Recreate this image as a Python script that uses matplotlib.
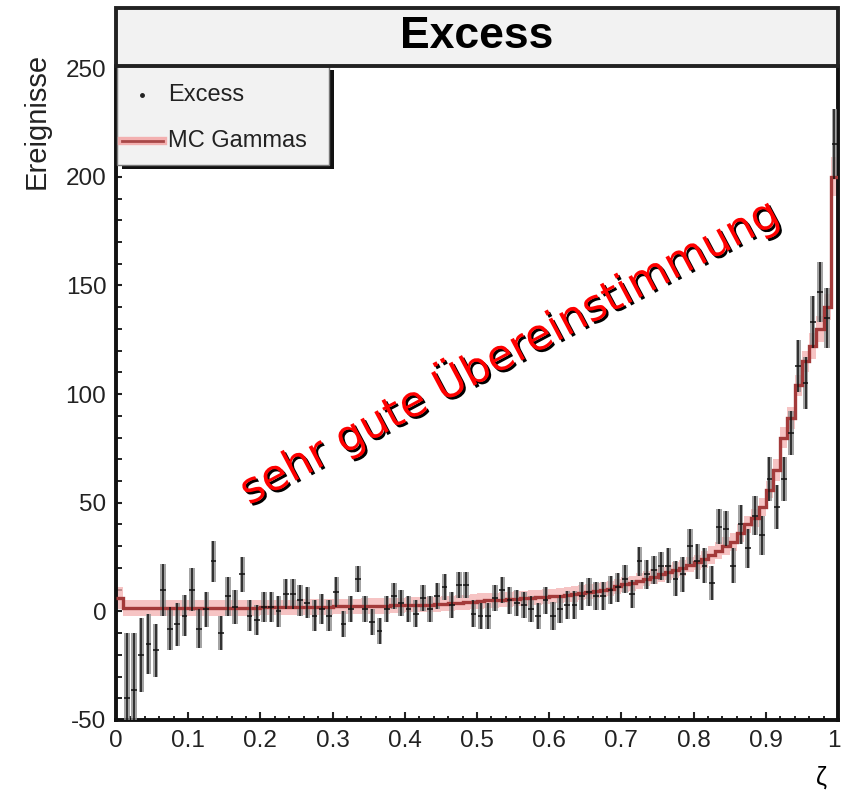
import matplotlib
matplotlib.use("Agg")
import matplotlib.pyplot as plt
import matplotlib.patheffects as pe
import matplotlib.transforms as mtransforms
from matplotlib.patches import Rectangle
from matplotlib.ticker import MultipleLocator
import numpy as np

plt.rcParams["font.family"] = ["Liberation Sans", "DejaVu Sans"]
plt.rcParams["axes.unicode_minus"] = False

# histogram binning: 100 bins in zeta from 0 to 1
BIN_EDGES = np.linspace(0.0, 1.0, 101)

# excess events per bin (bin 0 not shown in the reference)
EXCESS = [
    np.nan, -40, -36, -20, -15, -18, 10, -8, -6, -2,
    10, -8, 1, 23, -10, 7, 2, 17, -2, -4,
    2, 2, 0, 8, 8, 5, 4, -2, 1, -2,
    9, -6, 1, 15, 1, -5, -9, 1, 7, 4,
    1, -1, 6, 1, 7, 11, 3, 12, 12, -1,
    -2, -2, 6, 10, 5, 4, 3, 1, -2, 5,
    -2, 1, 3, 3, 7, 9, 7, 7, 10, 11,
    15, 8, 23, 17, 19, 21, 21, 15, 17, 30,
    23, 21, 13, 39, 38, 21, 40, 29, 44, 35,
    61, 48, 61, 82, 113, 105, 133, 147, 135, 215,
]
EXCESS_ERR = [
    0, 30, 26, 17, 14, 12, 12, 10, 10, 9.5,
    10, 9, 8, 9.5, 8, 9, 8, 8, 7, 7,
    7, 7, 7, 7, 7, 7, 7, 7, 7, 7,
    7, 6, 6, 6, 6, 6, 6, 6, 6, 6,
    6, 6, 6, 6, 6, 6, 6, 6, 6, 6,
    6, 6, 6, 6, 6, 6, 6, 6, 6, 6,
    6.5, 6.5, 6.5, 6.5, 6.5, 6.5, 6.5, 6.5, 6.5, 6.5,
    6.5, 6.5, 6.5, 6.5, 6.5, 6.5, 8, 8, 8, 8,
    8, 8, 8, 8, 8, 8, 9, 9, 9, 9,
    10, 10, 10, 10, 12, 12, 12, 14, 14, 16,
]

# MC gamma expectation per bin
MC_GAMMAS = [
    6, 1.5, 1.5, 1.5, 1.5, 1.5, 1.5, 1.5, 1.5, 1.5,
    1.5, 1.5, 1.5, 1.5, 1.5, 1.5, 1.5, 1.5, 1.5, 1.5,
    1.8, 1.8, 1.8, 1.8, 1.8, 2, 2, 2, 2, 2,
    2.3, 2.3, 2.3, 2.3, 2.5, 2.5, 2.5, 2.5, 2.8, 2.8,
    3, 3, 3, 3, 3.3, 3.5, 3.8, 4, 4.2, 4.5,
    4.8, 5, 5, 5.3, 5.5, 5.8, 6, 6.2, 6.5, 6.8,
    7, 7.3, 7.6, 8, 8.5, 9, 9.5, 10, 10.5, 11.5,
    12.5, 13, 14, 15, 16, 17, 18, 19, 20, 21.5,
    22.5, 24, 26, 28, 30, 32, 36, 40, 43, 48,
    56, 65, 80, 89, 104, 115, 122, 130, 140, 200,
]
MC_ERR = [5] + [3.5] * 80 + [4] * 10 + [5] * 5 + [6] * 3 + [9]

X_TICK_LABELS = ["0", "0.1", "0.2", "0.3", "0.4", "0.5", "0.6", "0.7",
                 "0.8", "0.9", "1"]
Y_TICKS = [-50, 0, 50, 100, 150, 200, 250]
ANNOTATION = "sehr gute Übereinstimmung"

excess = np.array(EXCESS, dtype=float)
excess_err = np.array(EXCESS_ERR, dtype=float)
mc = np.array(MC_GAMMAS, dtype=float)
mc_err = np.array(MC_ERR, dtype=float)
centers = 0.5 * (BIN_EDGES[:-1] + BIN_EDGES[1:])
width = BIN_EDGES[1] - BIN_EDGES[0]

fig = plt.figure(figsize=(8.42, 7.97), dpi=100)
ax = fig.add_axes([116 / 842, 1 - 720 / 797, 722 / 842, 654 / 797])

# MC band + step line
ax.stairs(mc + mc_err, BIN_EDGES, baseline=mc - mc_err, fill=True,
          color="#f3b0b0", alpha=0.75, zorder=2)
ax.stairs(mc, BIN_EDGES, baseline=None, color="#a33a3a", lw=2.4, zorder=4)

# excess: grey error boxes + black crosses
ok = ~np.isnan(excess)
ax.bar(centers[ok], 2 * excess_err[ok], width=0.75 * width,
       bottom=excess[ok] - excess_err[ok], color="#8e8e8e", alpha=0.8,
       zorder=3, linewidth=0)
ax.errorbar(centers[ok], excess[ok], yerr=excess_err[ok], xerr=0.004,
            fmt="none", ecolor="#111111", elinewidth=1.1, capsize=0, zorder=5)

ax.set_xlim(0, 1)
ax.set_ylim(-50, 251)
ax.xaxis.set_minor_locator(MultipleLocator(0.02))
ax.yaxis.set_minor_locator(MultipleLocator(10))
ax.set_xticks(np.linspace(0, 1, len(X_TICK_LABELS)))
ax.set_xticklabels(X_TICK_LABELS)
ax.set_yticks(Y_TICKS)
ax.tick_params(which="major", direction="in", length=6, width=1.5,
               labelsize=17.5, colors="#222222", pad=7)
ax.tick_params(which="minor", direction="in", length=3, width=1.2)
ax.tick_params(axis="y", which="both", length=4)
for side in ("left", "bottom", "right"):
    ax.spines[side].set_linewidth(2.8)
    ax.spines[side].set_color("#111111")
ax.spines["top"].set_visible(False)

# keep the last x label inside the canvas
last = ax.get_xticklabels()[-1]
last.set_transform(last.get_transform() + mtransforms.ScaledTranslation(
    -4 / 100, 0, fig.dpi_scale_trans))

ax.set_ylabel("Ereignisse", fontsize=21, loc="top", color="#222222")
ax.yaxis.set_label_coords(-0.09, 1.02)
ax.set_xlabel("ζ", fontsize=18, loc="right")
ax.xaxis.set_label_coords(0.985, -0.07)

# title box
fig.patches.append(Rectangle((116 / 842, 1 - 66 / 797), 722 / 842, 58 / 797,
                             transform=fig.transFigure, facecolor="#f2f2f2",
                             edgecolor="#222222", lw=2.8, zorder=1))
fig.text(477 / 842, 1 - 37 / 797, "Excess", fontsize=32, fontweight="bold",
         ha="center", va="center")

# legend box with shadow
ax.add_patch(Rectangle((0.008, 0.843), 0.294, 0.151, transform=ax.transAxes,
                       facecolor="#111111", edgecolor="none", zorder=8,
                       clip_on=False))
ax.add_patch(Rectangle((0.0015, 0.849), 0.294, 0.151, transform=ax.transAxes,
                       facecolor="#f2f2f2", edgecolor="#777777", lw=1,
                       zorder=9, clip_on=False))
ax.plot([0.036], [0.956], marker="o", ms=2.5, color="#222222",
        transform=ax.transAxes, zorder=10, clip_on=False)
ax.text(0.072, 0.956, "Excess", fontsize=17, va="center",
        transform=ax.transAxes, zorder=10, color="#222222")
ax.plot([0.008, 0.065], [0.885, 0.885], color="#f3b0b0", lw=6,
        transform=ax.transAxes, zorder=10, clip_on=False)
ax.plot([0.008, 0.065], [0.885, 0.885], color="#a84848", lw=2,
        transform=ax.transAxes, zorder=10, clip_on=False)
ax.text(0.072, 0.885, "MC Gammas", fontsize=17, va="center",
        transform=ax.transAxes, zorder=10, color="#222222")

# annotation
ax.text(0.543, 120, ANNOTATION, fontsize=31, color="#ff0000",
        family="DejaVu Sans", rotation=28, rotation_mode="anchor",
        ha="center", va="center", zorder=12,
        path_effects=[pe.withSimplePatchShadow(offset=(1.6, -1.6),
                                               shadow_rgbFace="black",
                                               alpha=1.0)])

fig.savefig("out.png", dpi=100)
